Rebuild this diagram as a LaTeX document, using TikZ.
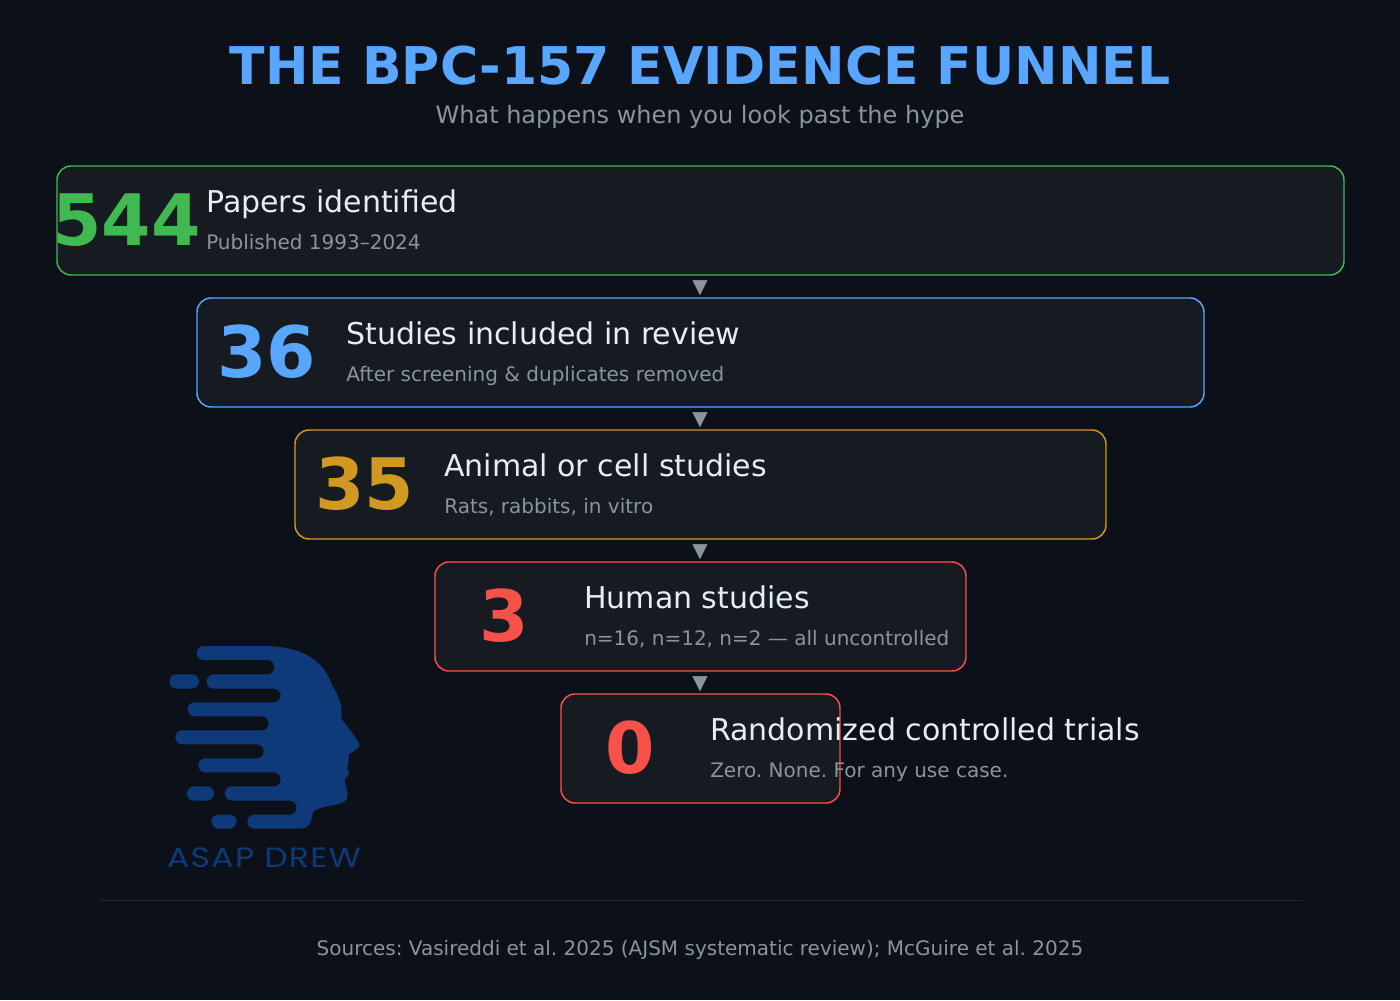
\documentclass[tikz,border=0pt]{standalone}
\usepackage{fontspec}
\setmainfont{DejaVu Sans}
\newfontfamily\logofont{Poppins}
\newcommand{\fs}[1]{\fontsize{\dimexpr#1pt*3/4\relax}{\dimexpr#1pt\relax}\selectfont}
\definecolor{bgc}{HTML}{0C1018}
\definecolor{boxc}{HTML}{161B22}
\definecolor{grn}{HTML}{3FB950}
\definecolor{blu}{HTML}{58A6FF}
\definecolor{amb}{HTML}{D29922}
\definecolor{rd}{HTML}{F85149}
\definecolor{gry}{HTML}{8B949E}
\definecolor{wht}{HTML}{E6EDF3}
\definecolor{logoc}{HTML}{0F3A7A}
\definecolor{rule}{HTML}{21262D}
\tikzset{
  funnelbox/.style={rounded corners=10.5pt,line width=1.1pt,fill=boxc},
  numtext/.style={anchor=base,inner sep=0pt,font=\fs{71}\bfseries},
  labtext/.style={anchor=base west,inner sep=0pt,text=wht,font=\fs{30}},
  subtext/.style={anchor=base west,inner sep=0pt,text=gry,font=\fs{20}},
  downmark/.style={anchor=center,inner sep=0pt,text=gry,font=\fs{20}},
}
\begin{document}
\frenchspacing
\begin{tikzpicture}[x=0.75pt,y=-0.75pt]
\useasboundingbox (0,0) rectangle (1400,1000);
\fill[bgc] (0,0) rectangle (1400,1000);
\node[anchor=base,inner sep=0pt,text=blu,font=\fs{52}\bfseries] (title) at (700,84) {THE BPC-157 EVIDENCE FUNNEL};
\node[anchor=base,inner sep=0pt,text=gry,font=\fs{24}] (subtitle) at (700,123) {What happens when you look past the hype};
% boxes
\draw[funnelbox,draw=grn] (57,166) rectangle (1344,275);
\node[numtext,text=grn] (n1) at (126.5,245) {544};
\node[labtext] (l1) at (206,212) {Papers identified};
\node[subtext] (s1) at (206,249) {Published 1993–2024};
\node[downmark] (a1) at (700,288) {▼};
\draw[funnelbox,draw=blu] (197,298) rectangle (1204,407);
\node[numtext,text=blu] (n2) at (266.5,377) {36};
\node[labtext] (l2) at (346,344) {Studies included in review};
\node[subtext] (s2) at (346,381) {After screening \& duplicates removed};
\node[downmark] (a2) at (700,420) {▼};
\draw[funnelbox,draw=amb] (295,430) rectangle (1106,539);
\node[numtext,text=amb] (n3) at (364.5,509) {35};
\node[labtext] (l3) at (444,476) {Animal or cell studies};
\node[subtext] (s3) at (444,513) {Rats, rabbits, in vitro};
\node[downmark] (a3) at (700,552) {▼};
\draw[funnelbox,draw=rd] (435,562) rectangle (966,671);
\node[numtext,text=rd] (n4) at (504.5,641) {3};
\node[labtext] (l4) at (584,608) {Human studies};
\node[subtext] (s4) at (584,645) {n=16, n=12, n=2 — all uncontrolled};
\node[downmark] (a4) at (700,684) {▼};
\draw[funnelbox,draw=rd] (561,694) rectangle (840,803);
\node[numtext,text=rd] (n5) at (630.5,773) {0};
\node[labtext] (l5) at (710,740) {Randomized controlled trials};
\node[subtext] (s5) at (710,777) {Zero. None. For any use case.};
% logo
\begin{scope}[shift={(150,630)},x=0.25pt,y=-0.25pt]
\fill[logoc]
 (161,48) -- (340,48) .. controls (440,48) and (510,80) .. (540,150)
 .. controls (550,180) and (572,200) .. (574,240) -- (575,268)
 .. controls (590,285) and (615,320) .. (628,342)
 .. controls (632,355) and (615,360) .. (597,372)
 .. controls (593,385) and (600,400) .. (590,416)
 .. controls (600,425) and (600,435) .. (585,447)
 .. controls (582,465) and (600,490) .. (590,508)
 .. controls (575,530) and (510,525) .. (490,545)
 .. controls (480,565) and (490,596) .. (445,596)
 -- (313,596) .. controls (301,596) and (292,587) .. (292,575) .. controls (292,563) and (301,554) .. (313,554)
 -- (419,554) .. controls (431,554) and (440,545) .. (440,533) .. controls (440,521) and (431,512) .. (419,512)
 -- (246,512) .. controls (234,512) and (225,503) .. (225,490) .. controls (225,478) and (234,469) .. (246,469)
 -- (371,469) .. controls (383,469) and (392,460) .. (392,448) .. controls (392,436) and (383,427) .. (371,427)
 -- (166,427) .. controls (154,427) and (145,418) .. (145,406) .. controls (145,394) and (154,385) .. (166,385)
 -- (320,385) .. controls (332,385) and (341,376) .. (341,364) .. controls (341,352) and (332,343) .. (320,343)
 -- (97,343) .. controls (85,343) and (76,334) .. (76,322) .. controls (76,310) and (85,301) .. (97,301)
 -- (335,301) .. controls (347,301) and (356,292) .. (356,280) .. controls (356,268) and (347,259) .. (335,259)
 -- (134,259) .. controls (122,259) and (113,250) .. (113,238) .. controls (113,226) and (122,217) .. (134,217)
 -- (371,217) .. controls (383,217) and (392,208) .. (392,196) .. controls (392,185) and (383,176) .. (371,176)
 -- (191,176) .. controls (179,176) and (170,167) .. (170,155) .. controls (170,142) and (179,133) .. (191,133)
 -- (352,133) .. controls (364,133) and (373,124) .. (373,112) .. controls (373,99) and (364,90) .. (352,90)
 -- (161,90) .. controls (149,90) and (140,81) .. (140,69) .. controls (140,57) and (149,48) .. (161,48) -- cycle;
\fill[logoc,rounded corners=5.3pt] (58,133) rectangle (147,176);
\fill[logoc,rounded corners=5.3pt] (111,469) rectangle (192,512);
\fill[logoc,rounded corners=5.3pt] (184,554) rectangle (260,596);
\end{scope}
\node[anchor=base,inner sep=0pt,text=logoc,font=\logofont\fs{28}] (logotext) at (264,867) {\scalebox{1.18}[1]{\addfontfeature{LetterSpace=4}ASAP DREW}};
% footer
\draw[rule,line width=0.75pt] (100,900) -- (1302,900);
\node[anchor=base,inner sep=0pt,text=gry,font=\fs{20}] (foot) at (700,955) {Sources: Vasireddi et al. 2025 (AJSM systematic review); McGuire et al. 2025};
\end{tikzpicture}
\end{document}
